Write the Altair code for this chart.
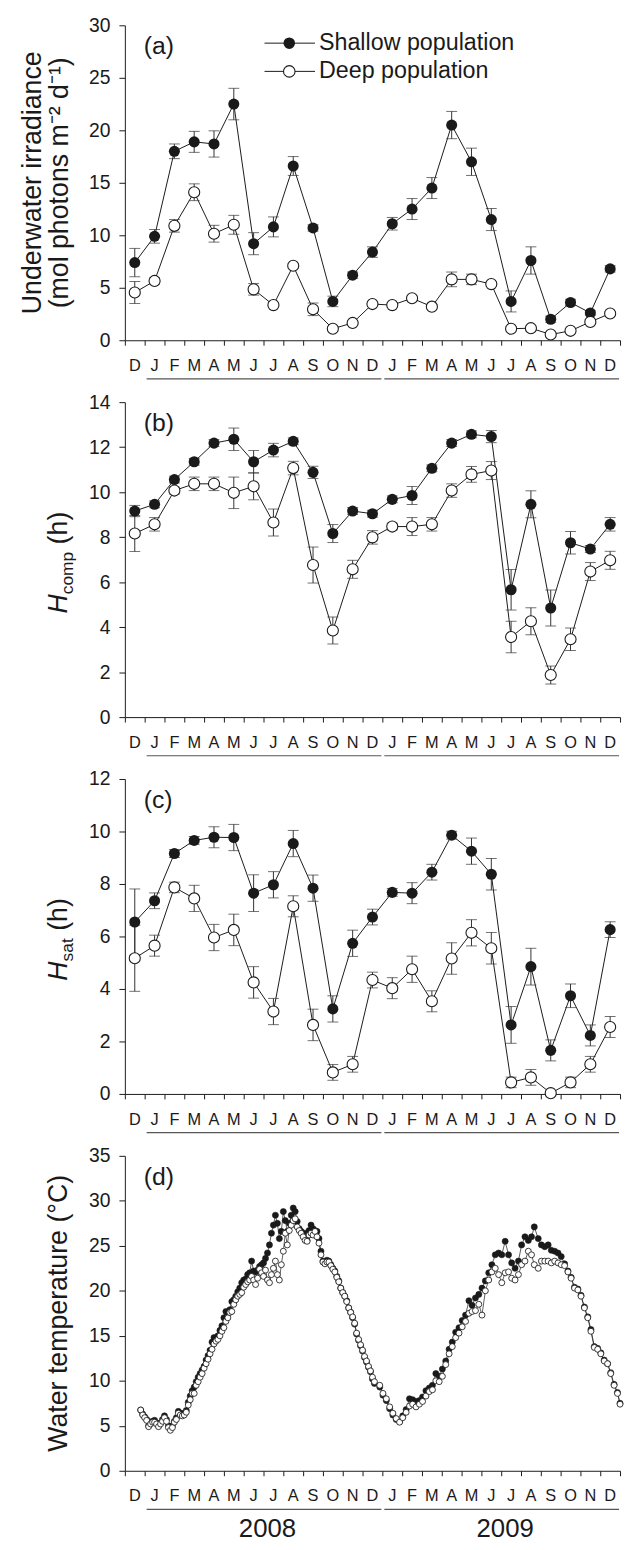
import altair as alt
import pandas as pd

FONT = "Liberation Sans"
INK = "#1a1a1a"
BAR = "#333333"

# ---------------- data ----------------
months = ["D", "J", "F", "M", "A", "M", "J", "J", "A", "S", "O", "N", "D",
          "J", "F", "M", "A", "M", "J", "J", "A", "S", "O", "N", "D"]
year_labels = ["2008", "2009"]
year_start = [1, 13]
year_end = [13, 25]

irr_shallow = [7.4, 9.9, 18.0, 18.9, 18.7, 22.5, 9.2, 10.8, 16.6, 10.7, 3.7, 6.2, 8.4,
               11.1, 12.5, 14.5, 20.5, 17.0, 11.5, 3.7, 7.6, 2.0, 3.6, 2.6, 6.8]
irr_shallow_se = [1.35, 0.65, 0.7, 1.0, 1.25, 1.5, 1.05, 0.95, 0.9, 0.3, 0.5, 0.3, 0.5,
                  0.6, 1.0, 1.0, 1.3, 1.3, 1.05, 1.0, 1.3, 0.3, 0.3, 0.2, 0.3]
irr_deep = [4.55, 5.65, 10.9, 14.1, 10.15, 11.0, 4.85, 3.35, 7.1, 2.95, 1.1, 1.65, 3.45,
            3.35, 4.0, 3.2, 5.8, 5.8, 5.35, 1.1, 1.15, 0.55, 0.9, 1.75, 2.55]
irr_deep_se = [1.05, 0.3, 0.6, 0.8, 0.8, 0.9, 0.55, 0.2, 0.2, 0.6, 0.2, 0.2, 0.2,
               0.2, 0.2, 0.2, 0.7, 0.5, 0.2, 0.2, 0.2, 0.2, 0.2, 0.2, 0.2]

hcomp_shallow = [9.16, 9.46, 10.56, 11.35, 12.18, 12.35, 11.35, 11.87, 12.26, 10.88, 8.16, 9.16, 9.04,
                 9.68, 9.85, 11.06, 12.18, 12.57, 12.47, 5.66, 9.46, 4.85, 7.75, 7.47, 8.57]
hcomp_shallow_se = [0.25, 0.15, 0.15, 0.15, 0.15, 0.5, 0.5, 0.3, 0.15, 0.27, 0.4, 0.15, 0.15,
                    0.15, 0.4, 0.15, 0.15, 0.15, 0.27, 0.9, 0.6, 0.8, 0.5, 0.15, 0.3]
hcomp_deep = [8.16, 8.57, 10.07, 10.37, 10.37, 9.97, 10.26, 8.65, 11.07, 6.76, 3.85, 6.57, 7.99,
              8.47, 8.47, 8.57, 10.07, 10.79, 10.96, 3.56, 4.26, 1.87, 3.46, 6.47, 6.97]
hcomp_deep_se = [0.8, 0.3, 0.15, 0.3, 0.3, 0.7, 0.6, 0.6, 0.3, 0.8, 0.6, 0.4, 0.3,
                 0.15, 0.4, 0.3, 0.3, 0.35, 0.4, 0.7, 0.6, 0.4, 0.5, 0.4, 0.4]

hsat_shallow = [6.55, 7.36, 9.16, 9.66, 9.78, 9.77, 7.65, 7.97, 9.54, 7.84, 3.24, 5.74, 6.74,
                7.68, 7.65, 8.45, 9.86, 9.25, 8.37, 2.63, 4.85, 1.66, 3.74, 2.23, 6.26]
hsat_shallow_se = [1.26, 0.3, 0.15, 0.15, 0.4, 0.5, 0.7, 0.5, 0.5, 0.5, 0.5, 0.5, 0.3,
                   0.15, 0.4, 0.3, 0.15, 0.5, 0.6, 0.7, 0.7, 0.4, 0.45, 0.4, 0.3]
hsat_deep = [5.17, 5.65, 7.87, 7.45, 5.96, 6.25, 4.25, 3.14, 7.15, 2.63, 0.82, 1.13, 4.34,
             4.03, 4.75, 3.53, 5.16, 6.14, 5.55, 0.44, 0.63, 0.03, 0.44, 1.13, 2.55]
hsat_deep_se = [1.26, 0.4, 0.2, 0.5, 0.5, 0.6, 0.6, 0.5, 0.4, 0.6, 0.3, 0.3, 0.3,
                0.4, 0.5, 0.4, 0.6, 0.5, 0.6, 0.2, 0.3, 0.05, 0.2, 0.3, 0.4]

# water temperature readings (position in months counted from the start of Dec 2007)
temp_month_2008 = [round(0.8 + 0.1 * k, 2) for k in range(119)]
temp_shallow_2008 = [
    6.75, 6.3, 6.0, 5.7, 5.0, 5.4, 5.5, 5.6, 5.3, 5.0,
    5.3, 5.7, 6.1, 5.7, 5.0, 4.7, 5.0, 5.5, 5.9, 6.6,
    6.4, 6.3, 6.4, 6.7, 7.6, 8.3, 8.9, 9.3, 9.9, 10.4,
    10.8, 11.2, 11.6, 12.3, 12.8, 13.4, 14.3, 14.8, 14.7, 15.0,
    15.6, 16.1, 17.0, 17.7, 17.4, 17.9, 18.8, 19.0, 19.4, 19.9,
    20.3, 20.9, 21.2, 21.3, 21.8, 22.0, 23.3, 22.2, 22.1, 22.3,
    22.7, 22.9, 23.1, 23.6, 24.2, 25.1, 26.4, 27.3, 28.4, 27.5,
    25.8, 26.6, 28.8, 27.8, 26.6, 27.5, 28.4, 29.2, 28.8, 27.7,
    26.9, 26.6, 26.2, 26.4, 25.6, 26.7, 27.3, 26.9, 26.7, 26.6,
    25.8, 24.4, 23.3, 23.1, 23.4, 23.3, 22.9, 22.5, 22.2, 21.6,
    21.1, 20.3, 19.8, 19.4, 18.9, 18.1, 17.6, 17.0, 16.3, 15.2,
    14.5, 13.9, 13.3, 12.6, 12.1, 11.5, 11.0, 10.2, 9.7]
temp_deep_2008 = [
    6.75, 6.2, 5.9, 5.6, 4.9, 5.2, 5.4, 5.4, 5.2, 4.9,
    5.2, 5.5, 5.9, 5.5, 4.8, 4.5, 4.8, 5.4, 5.7, 6.4,
    6.2, 6.1, 6.2, 6.5, 7.3, 7.9, 8.6, 8.6, 9.5, 9.9,
    10.4, 10.8, 11.4, 11.9, 12.4, 13.0, 13.5, 14.1, 14.4, 14.6,
    15.0, 15.5, 15.9, 16.6, 17.0, 17.6, 17.7, 18.5, 19.0, 19.4,
    19.6, 19.8, 20.4, 20.7, 21.0, 21.2, 21.6, 21.2, 20.7, 21.4,
    22.4, 22.0, 21.6, 22.3, 21.2, 20.9, 21.8, 22.5, 23.3, 21.8,
    21.2, 22.9, 24.4, 26.4, 25.1, 26.7, 27.3, 27.8, 28.0, 27.1,
    26.7, 26.4, 26.0, 25.6, 25.5, 26.2, 26.4, 26.2, 26.6, 26.0,
    25.3, 24.0, 23.2, 23.0, 23.2, 23.2, 22.8, 22.4, 22.1, 21.5,
    21.0, 20.3, 19.8, 19.4, 18.8, 18.1, 17.6, 17.1, 16.4, 15.3,
    14.6, 14.0, 13.4, 12.7, 12.2, 11.6, 11.1, 10.4, 9.9]
temp_month_2009 = [
    12.87, 13.03, 13.2, 13.37, 13.53, 13.7, 13.87, 14.03, 14.2, 14.37,
    14.53, 14.7, 14.87, 15.03, 15.2, 15.37, 15.53, 15.7, 15.87, 16.03,
    16.2, 16.37, 16.53, 16.7, 16.87, 17.03, 17.2, 17.37, 17.53, 17.7,
    17.87, 18.03, 18.2, 18.37, 18.53, 18.7, 18.87, 19.03, 19.2, 19.37,
    19.53, 19.7, 19.87, 20.03, 20.2, 20.37, 20.53, 20.67, 20.87, 21.03,
    21.2, 21.37, 21.53, 21.7, 21.87, 22.03, 22.2, 22.37, 22.53, 22.7,
    22.87, 23.03, 23.2, 23.37, 23.53, 23.7, 23.87, 24.03, 24.2, 24.37,
    24.53, 24.7, 24.87, 25.0]
temp_shallow_2009 = [
    9.3, 8.4, 7.8, 6.9, 6.2, 5.7, 5.45, 6.1, 6.8, 8.0,
    7.9, 7.7, 7.8, 8.2, 8.9, 9.2, 9.5, 10.8, 10.5, 11.3,
    12.2, 13.5, 14.3, 15.4, 15.9, 16.7, 17.3, 18.9, 18.4, 19.2,
    19.6, 20.3, 21.1, 22.0, 22.9, 24.0, 24.2, 24.0, 25.5, 24.0,
    23.1, 22.5, 23.3, 25.1, 26.0, 25.6, 26.0, 27.1, 25.8, 25.1,
    24.9, 25.1, 24.5, 24.4, 24.2, 23.8, 23.0, 22.2, 21.5, 20.4,
    20.2, 19.5, 18.2, 17.1, 15.7, 13.8, 13.6, 13.1, 12.3, 11.9,
    10.9, 9.6, 8.7, 7.5]
temp_deep_2009 = [
    9.5, 8.6, 8.0, 7.1, 6.4, 5.8, 5.4, 5.9, 6.5, 7.2,
    7.4, 7.1, 7.4, 7.7, 8.3, 8.8, 9.0, 10.0, 9.9, 10.5,
    11.8, 13.0, 13.8, 14.8, 15.3, 16.0, 16.6, 17.5, 17.7, 17.8,
    18.5, 17.3, 20.0, 21.2, 22.1, 22.5, 21.8, 20.9, 22.0, 22.1,
    21.4, 21.2, 21.8, 22.9, 23.3, 24.4, 24.0, 22.9, 22.5, 23.3,
    23.3, 23.3, 23.1, 23.3, 23.1, 22.9, 22.8, 22.1, 21.4, 20.3,
    20.1, 19.4, 18.1, 17.0, 15.5, 13.7, 13.5, 13.0, 12.2, 11.9,
    10.8, 9.5, 8.6, 7.4]

temp_month = temp_month_2008 + temp_month_2009
temp_shallow = temp_shallow_2008 + temp_shallow_2009
temp_deep = temp_deep_2008 + temp_deep_2009

# ---------------- layout ----------------
W = 500
H = 318
XSCALE = alt.Scale(domain=[0, 25], nice=False, zero=False)
XAXIS = alt.Axis(values=list(range(26)), labels=False, title=None, tickSize=5,
                 grid=False, domainColor=INK, tickColor=INK)


def xenc(field="xm"):
    return alt.X(f"{field}:Q", scale=XSCALE, axis=XAXIS)


def one(text):
    return pd.DataFrame({"t": [text]})


def month_axis_layers(with_years=False):
    mdf = pd.DataFrame({"xm": [i + 0.5 for i in range(len(months))], "lab": months})
    labs = alt.Chart(mdf).mark_text(font=FONT, fontSize=16.5, color=INK,
                                    baseline="middle").encode(
        x=xenc(), y=alt.value(H + 26), text="lab:N")
    ydf = pd.DataFrame({"year": year_labels, "start": year_start, "end": year_end})
    uline = alt.Chart(ydf).transform_calculate(
        a="datum.start + 0.1", b="datum.end - 0.05").mark_rule(
        color="#555555", strokeWidth=1.2).encode(
        x=xenc("a"), x2="b:Q", y=alt.value(H + 39))
    layers = [labs, uline]
    if with_years:
        ylab = alt.Chart(ydf).transform_calculate(
            c="(datum.start + datum.end) / 2 + 0.2").mark_text(
            font=FONT, fontSize=26, color=INK, baseline="middle").encode(
            x=xenc("c"), y=alt.value(H + 59), text="year:N")
        layers.append(ylab)
    return layers


def letter_layer(letter):
    return alt.Chart(one(letter)).mark_text(
        font=FONT, fontSize=25, align="left", baseline="middle", color=INK).encode(
        x=alt.value(19), y=alt.value(21), text="t:N")


def ytitle_plain(text, xpos, ycenter=H / 2):
    return alt.Chart(one(text)).mark_text(
        font=FONT, fontSize=27, angle=270, align="center", baseline="alphabetic",
        color=INK).encode(x=alt.value(xpos), y=alt.value(ycenter), text="t:N")


def ytitle_h(sub, sub_width):
    # italic H + subscript + "(h)"
    w_h = 19.5
    w_gap = 7.5
    w_par = 33.0
    total = w_h + sub_width + w_gap + w_par
    start = H / 2 + 3 + total / 2
    base = -58
    h = alt.Chart(one("H")).mark_text(
        font=FONT, fontSize=27, fontStyle="italic", angle=270, align="left",
        baseline="alphabetic", color=INK).encode(
        x=alt.value(base), y=alt.value(start), text="t:N")
    s = alt.Chart(one(sub)).mark_text(
        font=FONT, fontSize=17.5, angle=270, align="left",
        baseline="alphabetic", color=INK).encode(
        x=alt.value(base + 6), y=alt.value(start - w_h), text="t:N")
    p = alt.Chart(one("(h)")).mark_text(
        font=FONT, fontSize=27, angle=270, align="left",
        baseline="alphabetic", color=INK).encode(
        x=alt.value(base), y=alt.value(start - w_h - sub_width - w_gap), text="t:N")
    return [h, s, p]


def data_panel(shallow, s_se, deep, d_se, ymax, ystep, extra):
    n = len(months)
    df = pd.DataFrame({
        "xm": [i + 0.5 for i in range(n)] * 2,
        "val": shallow + deep,
        "se": s_se + d_se,
        "pop": ["Shallow"] * n + ["Deep"] * n,
    })
    base = alt.Chart(df).transform_calculate(
        lo="max(datum.val - datum.se, 0)", hi="datum.val + datum.se")
    ysc = alt.Scale(domain=[0, ymax], nice=False, zero=True)
    yax = alt.Axis(values=list(range(0, ymax + 1, ystep)), title=None, tickSize=6,
                   labelPadding=9, grid=False, domainColor=INK, tickColor=INK)

    def yenc(f):
        return alt.Y(f"{f}:Q", scale=ysc, axis=yax)

    lines = base.mark_line(color=INK, strokeWidth=1).encode(
        x=xenc(), y=yenc("val"), detail="pop:N")
    bars = base.mark_rule(color=BAR, strokeWidth=1).encode(
        x=xenc(), y=yenc("lo"), y2="hi:Q")
    cap_hi = base.mark_tick(orient="horizontal", size=11, thickness=1, color=BAR).encode(
        x=xenc(), y=yenc("hi"))
    cap_lo = base.mark_tick(orient="horizontal", size=11, thickness=1, color=BAR).encode(
        x=xenc(), y=yenc("lo"))
    pts_s = base.transform_filter("datum.pop == 'Shallow'").mark_circle(
        size=125, color=INK, opacity=1).encode(x=xenc(), y=yenc("val"))
    pts_d = base.transform_filter("datum.pop == 'Deep'").mark_circle(
        size=125, fill="white", stroke=INK, strokeWidth=1.1, opacity=1).encode(
        x=xenc(), y=yenc("val"))
    layers = [lines, bars, cap_hi, cap_lo, pts_s, pts_d] + extra + month_axis_layers()
    return alt.layer(*layers).properties(width=W, height=H)


# legend (panel a)
def legend_layers():
    out = []
    for i, lab in enumerate(["Shallow population", "Deep population"]):
        yy = 18 + 28.5 * i
        out.append(alt.Chart(one(lab)).mark_rule(color=INK, strokeWidth=1).encode(
            x=alt.value(141), x2=alt.value(192), y=alt.value(yy)))
        if i == 0:
            out.append(alt.Chart(one(lab)).mark_circle(size=135, color=INK, opacity=1).encode(
                x=alt.value(166), y=alt.value(yy)))
        else:
            out.append(alt.Chart(one(lab)).mark_circle(
                size=135, fill="white", stroke=INK, strokeWidth=1.1, opacity=1).encode(
                x=alt.value(166), y=alt.value(yy)))
        out.append(alt.Chart(one(lab)).mark_text(
            font=FONT, fontSize=23.5, align="left", baseline="middle", color=INK).encode(
            x=alt.value(196), y=alt.value(yy), text="t:N"))
    return out


panel_a = data_panel(
    irr_shallow, irr_shallow_se, irr_deep, irr_deep_se, 30, 5,
    [letter_layer("(a)"),
     ytitle_plain("Underwater irradiance", -85),
     ytitle_plain("(mol photons m\u207b\u00b2 d\u207b\u00b9)", -57)] + legend_layers())

panel_b = data_panel(
    hcomp_shallow, hcomp_shallow_se, hcomp_deep, hcomp_deep_se, 14, 2,
    [letter_layer("(b)")] + ytitle_h("comp", 42.8))

panel_c = data_panel(
    hsat_shallow, hsat_shallow_se, hsat_deep, hsat_deep_se, 12, 2,
    [letter_layer("(c)")] + ytitle_h("sat", 23.3))

# panel d: water temperature
n_t = len(temp_month)
tdf = pd.DataFrame({
    "m": temp_month * 2,
    "val": temp_shallow + temp_deep,
    "pop": ["Shallow"] * n_t + ["Deep"] * n_t,
})
tbase = alt.Chart(tdf)
ysc_d = alt.Scale(domain=[0, 35], nice=False, zero=True)
yax_d = alt.Axis(values=list(range(0, 36, 5)), title=None, tickSize=6, labelPadding=9,
                 grid=False, domainColor=INK, tickColor=INK)
t_lines = tbase.mark_line(color=INK, strokeWidth=0.7).encode(
    x=xenc("m"), y=alt.Y("val:Q", scale=ysc_d, axis=yax_d), detail="pop:N")
t_s = tbase.transform_filter("datum.pop == 'Shallow'").mark_circle(
    size=38, color=INK, stroke=INK, strokeWidth=0.6, opacity=1).encode(
    x=xenc("m"), y=alt.Y("val:Q", scale=ysc_d, axis=yax_d))
t_d = tbase.transform_filter("datum.pop == 'Deep'").mark_circle(
    size=36, fill="white", stroke=INK, strokeWidth=0.85, opacity=1).encode(
    x=xenc("m"), y=alt.Y("val:Q", scale=ysc_d, axis=yax_d))
panel_d = alt.layer(
    t_lines, t_s, t_d, letter_layer("(d)"),
    ytitle_plain("Water temperature (\u00b0C)", -58),
    *month_axis_layers(with_years=True)).properties(width=W, height=H)

chart = alt.vconcat(panel_a, panel_b, panel_c, panel_d, spacing=62.5, bounds="flush").properties(
    padding={"left": 11, "top": 0, "right": 0, "bottom": 0}
).configure_view(stroke=None).configure_axis(
    labelFont=FONT, labelFontSize=19.5, labelColor=INK, domainWidth=1, tickWidth=1
)

chart.save("out.html", embed_options={"renderer": "svg", "actions": False})
